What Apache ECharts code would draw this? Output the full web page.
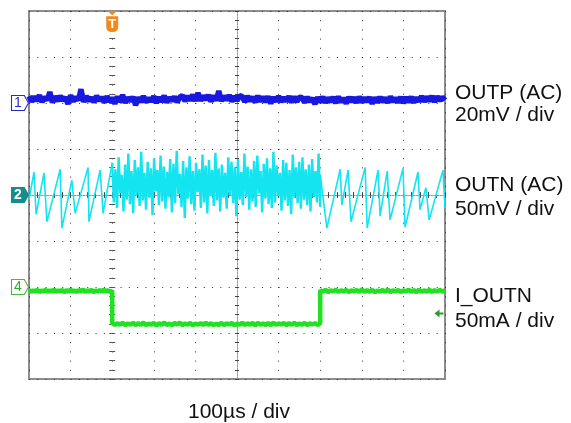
<!DOCTYPE html>
<html>
<head>
<meta charset="utf-8">
<script src="https://cdn.jsdelivr.net/npm/echarts@6/dist/echarts.min.js"></script>
<style>
  html, body { margin: 0; background: #fff; }
  #chart { width: 571px; height: 423px; }
</style>
</head>
<body>
<div id="chart"></div>
<script>
// time axis in µs (100 µs / div), trigger at 0
var timeMin = -200, timeMax = 800, timeStep = 100;

// CH1 OUTP (AC), mV, evenly sampled over the full screen
var ch1 = [
  3.0,0.6,2.8,0.9,3.4,0.4,2.6,1.2,4.8,0.2,2.9,0.8,3.1,1.0,2.5,-0.4,3.3,0.7,2.7,1.1,6.0,0.5,3.0,0.9,2.4,0.3,3.2,1.0,
  2.6,0.2,2.9,0.6,2.3,-0.3,2.8,0.5,3.5,0.1,2.4,0.8,2.7,-1.0,2.5,0.4,3.0,0.3,2.2,0.7,2.9,0.0,2.6,0.6,3.2,0.2,2.4,0.9,2.8,0.4,2.5,
  3.3,0.8,3.0,1.2,3.6,0.9,4.4,1.0,3.1,1.4,3.5,0.6,3.2,1.1,5.2,0.9,3.0,1.3,3.4,0.7,2.9,1.0,3.2,
  2.8,0.5,3.0,0.8,2.6,0.3,3.1,0.7,2.7,0.4,2.9,-0.2,2.6,0.6,3.0,0.5,2.4,0.8,2.9,0.3,2.7,0.6,2.5,
  2.4,0.2,2.6,0.5,2.2,-0.5,2.5,0.3,2.7,0.1,2.3,0.6,2.5,0.0,2.8,0.4,2.2,-0.2,2.6,0.5,2.4,0.1,2.7,0.3,2.3,0.6,2.5,-0.3,2.4,0.2,2.6,0.4,2.3,0.1,2.8,0.5,2.2,0.3,2.6,0.0,2.5,0.4,2.7,0.2,2.4,0.6,
  2.9,0.6,2.7,0.9,3.0,0.5,2.8,1.0,2.6,1.2
];

// CH2 OUTN (AC), mV: sawtooth before the load step, noise during it, sawtooth after
var ch2SawLeft = [[-200,-5],[-188,25],[-183,-21],[-164,24],[-157,-29],[-125,28],[-121,-36],
  [-97,16],[-89,-20],[-58,30],[-56,-29],[-29,27],[-22,-20],[0,35]];
var ch2Noise = [
  35,-8,28,-14,41,2,22,-18,33,-5,45,-10,26,-20,38,0,30,-12,47,-6,24,-16,36,-3,29,-22,40,4,27,-11,
  43,-7,31,-15,25,-2,39,-19,34,-9,48,1,23,-13,37,-25,30,-4,42,-10,26,-17,35,3,28,-14,44,-8,32,-20,
  38,-1,27,-12,46,-6,29,-18,33,-3,24,-15,41,0,36,-9,30,-23,39,-5,25,-11,45,-2,31,-16,28,-7,37,-13,
  43,2,26,-19,34,-4,40,-10,29,-14,47,-8,32,-1,24,-17,38,-6,35,-12,27,-21,44,-3,30,-9,36,-15,41,-5,
  28,-11,33,-18,39,-2,26,-8,45,-13
];
var ch2NoiseStart = 0, ch2NoiseEnd = 500;
var ch2SawRight = [[500,22],[516,-36],[548,28],[552,-11],[567,27],[574,-29],[608,30],[613,-36],
  [639,27],[644,-23],[661,26],[668,-27],[699,29],[704,-35],[735,25],[740,-16],[754,8],[762,-27],
  [795,27],[800,-14]];

// CH4 I_OUTN, mA: high before, low during the step, high after
var ch4Before = [
  -3.2,-5.4,-3.6,-5.0,-2.8,-5.6,-3.9,-4.8,-3.0,-5.5,-3.5,-5.1,-2.6,-5.3,-3.8,-4.9,-3.1,-5.8,-3.4,-5.0,
  -2.9,-5.2,-3.7,-5.5,-3.3,-4.7,-2.7,-5.4,-3.6,-5.1,-3.0,-5.6,-3.8,-4.9,-3.2,-5.3,-2.8,-5.0,-3.5,-5.4,-3.9
];
var ch4During = [
  -39.0,-41.3,-39.4,-41.0,-38.8,-41.6,-39.6,-40.9,-38.9,-41.4,-39.3,-41.1,-38.6,-41.5,-39.8,-40.8,-39.1,-41.9,-39.4,-41.0,
  -38.7,-41.2,-39.7,-41.5,-39.2,-40.7,-38.8,-41.4,-39.5,-41.1,-39.0,-41.6,-39.8,-40.9,-39.2,-41.3,-38.8,-41.0,-39.5,-41.4,
  -39.9,-41.2,-38.9,-41.5,-39.3,-40.8,-39.0,-41.7,-39.6,-41.1,-38.7,-41.3,-39.4,-41.0,-39.1,-41.6,-38.9,-40.9,-39.7,-41.2,
  -39.2,-41.5,-38.8,-41.1,-39.5,-40.8,-39.0,-41.4,-39.3,-41.0,-38.9,-41.3,-39.6,-41.1,-39.0,-41.5,-39.4,-40.9,-39.2,-41.3,-39.5
];
var ch4After = [
  -3.4,-5.2,-3.0,-5.5,-3.7,-4.9,-2.9,-5.3,-3.6,-5.0,-3.1,-5.6,-3.8,-4.8,-3.2,-5.4,-2.7,-5.1,-3.5,-5.3,
  -3.0,-5.7,-3.9,-4.9,-3.3,-5.2,-2.8,-5.5,-3.6,-5.0,-3.2,-5.4,-3.8,-4.7,-3.0,-5.3,-3.4,-5.6,-2.9,-5.1,
  -3.7,-5.0,-3.1,-5.4,-3.5,-4.9,-3.0,-5.2,-3.6
];
var ch4Level = -28.8; // trigger level arrow, mA

var labels = [
  { text: 'OUTP (AC)', y: 93.5 }, { text: '20mV / div', y: 115.5 },
  { text: 'OUTN (AC)', y: 185.5 }, { text: '50mV / div', y: 209.5 },
  { text: 'I_OUTN', y: 296.5 }, { text: '50mA / div', y: 321.5 }
];
var timeLabel = '100µs / div';

// spread samples evenly between two times
function spread(values, t0, t1) {
  return values.map(function (v, i) {
    return [t0 + (t1 - t0) * i / (values.length - 1), v];
  });
}

var ch1Data = spread(ch1, timeMin, timeMax);
var ch2Left = ch2SawLeft;
var ch2Mid = [ch2SawLeft[ch2SawLeft.length - 1]].concat(spread(ch2Noise, ch2NoiseStart, ch2NoiseEnd), [ch2SawRight[0]]);
var ch2Right = ch2SawRight;
var ch4Data = spread(ch4Before, timeMin, 0).concat(spread(ch4During, 0, 500), spread(ch4After, 500, timeMax));

var font = '"Liberation Sans", Arial, sans-serif';
var tagPath = 'path://M0,0 L12,0 L16,7 L12,14 L0,14 Z';
var cyan = '#14e4f0';

function frameAxis(pos, split, dash) {
  var vertical = pos === 'left' || pos === 'right';
  return {
    type: 'value', position: pos,
    min: vertical ? -4 : timeMin, max: vertical ? 4 : timeMax, interval: vertical ? 1 : timeStep,
    axisLine: { show: false },
    axisTick: { show: true, inside: true, length: 3, lineStyle: { color: '#555' } },
    minorTick: { show: true, splitNumber: 5, length: 3, lineStyle: { color: '#555' } },
    axisLabel: { show: false },
    splitLine: { show: split, lineStyle: { color: '#333', width: 1, type: dash } }
  };
}

function centerAxis(pos, offset, inside, line) {
  var a = frameAxis(pos, false);
  a.offset = offset;
  a.axisLine = { show: line, lineStyle: { color: '#999', width: 1, type: [2, 1] } };
  a.axisTick = { show: true, inside: inside, length: 2, lineStyle: { color: '#444' } };
  a.minorTick = { show: true, splitNumber: 5, length: 2, lineStyle: { color: '#444' } };
  return a;
}

var chart = echarts.init(document.getElementById('chart'));

var option = {
  animation: false,
  grid: { left: 29, top: 11, width: 416, height: 368, show: true, borderColor: '#8c8c8c', borderWidth: 2 },
  xAxis: [
    frameAxis('bottom', true, [1, 8.2]),
    frameAxis('top', false),
    centerAxis('bottom', -184, true, true),
    centerAxis('bottom', -184, false, false)
  ],
  yAxis: [
    frameAxis('left', true, [1, 7.32]),
    frameAxis('right', false),
    centerAxis('left', -208, true, true),
    centerAxis('left', -208, false, false),
    { type: 'value', min: -120, max: 40, show: false },
    { type: 'value', min: -200, max: 200, show: false },
    { type: 'value', min: -100, max: 300, show: false }
  ],
  series: [
    {
      name: 'OUTP', type: 'line', yAxisIndex: 4, data: ch1Data, showSymbol: false,
      lineStyle: { color: '#1818e0', width: 5.5 },
      markPoint: {
        silent: true, animation: false,
        data: [{
          coord: [timeMin, 0], symbol: tagPath, symbolSize: [17, 15], symbolOffset: [-9, 0],
          itemStyle: { color: '#fff', borderColor: '#2a2ac8', borderWidth: 1 },
          label: { show: true, position: 'inside', formatter: '1', color: '#2a2ac8', fontSize: 14, fontFamily: font, offset: [-2, 0] }
        }]
      }
    },
    {
      name: 'OUTN', type: 'line', yAxisIndex: 5, data: ch2Left, showSymbol: false,
      lineStyle: { color: cyan, width: 1.6 },
      markPoint: {
        silent: true, animation: false,
        data: [{
          coord: [timeMin, 0], symbol: tagPath, symbolSize: [17, 15], symbolOffset: [-9, 0],
          itemStyle: { color: '#178c8c', borderColor: '#178c8c', borderWidth: 1 },
          label: { show: true, position: 'inside', formatter: '2', color: '#fff', fontWeight: 'bold', fontSize: 14, fontFamily: font, offset: [-2, 0] }
        }, {
          coord: [0, 200],
          symbol: 'path://M1,0 L10,0 L5.5,4 Z M0,5 L11,5 L11,15 Q11,20 5.5,20 Q0,20 0,15 Z',
          symbolSize: [12, 21], symbolOffset: [0, 10.5],
          itemStyle: { color: '#f08a1c' },
          label: { show: true, position: 'inside', formatter: 'T', color: '#fff', fontWeight: 'bold', fontSize: 13, fontFamily: font, offset: [0, 3] }
        }]
      }
    },
    {
      name: 'OUTN noise', type: 'line', yAxisIndex: 5, data: ch2Mid, showSymbol: false,
      lineStyle: { color: cyan, width: 2.4 }
    },
    {
      name: 'OUTN right', type: 'line', yAxisIndex: 5, data: ch2Right, showSymbol: false,
      lineStyle: { color: cyan, width: 1.6 }
    },
    {
      name: 'I_OUTN', type: 'line', yAxisIndex: 6, data: ch4Data, showSymbol: false,
      lineStyle: { color: '#22e022', width: 4.5 },
      markPoint: {
        silent: true, animation: false,
        data: [{
          coord: [timeMin, 0], symbol: tagPath, symbolSize: [17, 15], symbolOffset: [-9, 0],
          itemStyle: { color: '#fff', borderColor: '#44b844', borderWidth: 1 },
          label: { show: true, position: 'inside', formatter: '4', color: '#33a833', fontSize: 14, fontFamily: font, offset: [-2, 0] }
        }, {
          coord: [timeMax, ch4Level], symbol: 'path://M0,4 L5,0 L5,3 L9,3 L9,5 L5,5 L5,8 Z',
          symbolSize: [9, 8], symbolOffset: [-6, 0],
          itemStyle: { color: '#2a9a2a' },
          label: { show: false }
        }]
      }
    }
  ],
  graphic: labels.map(function (l) {
    return {
      type: 'text', x: 455, y: l.y,
      style: { text: l.text, font: '21px ' + font, fill: '#111', textVerticalAlign: 'middle' }
    };
  }).concat([{
    type: 'text', x: 239, y: 412.5,
    style: { text: timeLabel, font: '21px ' + font, fill: '#111', textAlign: 'center', textVerticalAlign: 'middle' }
  }])
};

chart.setOption(option);
</script>
</body>
</html>
